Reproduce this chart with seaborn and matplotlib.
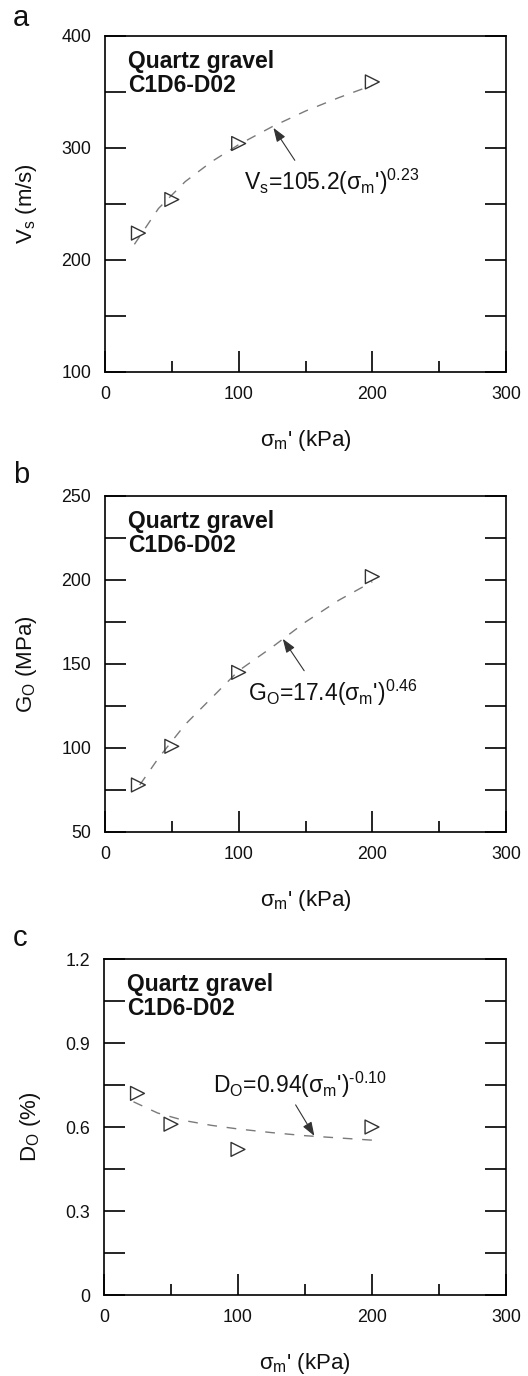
import matplotlib
matplotlib.use("Agg")
import matplotlib.pyplot as plt
from matplotlib.ticker import FixedLocator
import seaborn as sns
import pandas as pd

# ---------------- data ----------------
stress_kpa = [25, 50, 100, 200]
vs_values = [224, 254, 304, 359]
go_values = [78, 101, 145, 202]
do_values = [0.72, 0.61, 0.52, 0.60]

# fitted-curve samples
fit_x_a = [22, 40, 60, 80, 100, 125, 150, 175, 200]
fit_y_a = [214, 246, 270, 288, 303, 319, 333, 345, 356]
fit_x_b = [26, 40, 60, 80, 100, 125, 150, 175, 200]
fit_y_b = [78, 94, 114, 130, 146, 160, 175, 188, 199]
fit_x_c = [22, 40, 60, 80, 100, 125, 150, 175, 200]
fit_y_c = [0.690, 0.650, 0.623, 0.606, 0.593, 0.580, 0.569, 0.561, 0.553]

panel_letters = ["a", "b", "c"]
sample_text = "Quartz gravel\nC1D6-D02"
y_labels = [r"$\mathregular{V_s}$ (m/s)", r"$\mathregular{G_O}$ (MPa)", r"$\mathregular{D_O}$ (%)"]
x_label = r"$\mathregular{σ_m}$' (kPa)"
eq_texts = [
    r"$\mathregular{V_s}$=105.2($\mathregular{σ_m}$')$\mathregular{^{0.23}}$",
    r"$\mathregular{G_O}$=17.4($\mathregular{σ_m}$')$\mathregular{^{0.46}}$",
    r"$\mathregular{D_O}$=0.94($\mathregular{σ_m}$')$\mathregular{^{\text{-}0.10}}$",
]
y_limits = [(100, 400), (50, 250), (0, 1.2)]
y_ticks = [[100, 200, 300, 400], [50, 100, 150, 200, 250], [0, 0.3, 0.6, 0.9, 1.2]]
y_minor = [[150, 250, 350], [75, 125, 175, 225], [0.15, 0.45, 0.75, 1.05]]
y_tick_labels = [["100", "200", "300", "400"],
                 ["50", "100", "150", "200", "250"],
                 ["0", "0.3", "0.6", "0.9", "1.2"]]
x_ticks = [0, 100, 200, 300]
x_minor = [50, 150, 250]
x_tick_labels = ["0", "100", "200", "300"]

# annotation geometry (data coords): text anchor, arrow tip, arrow tail
eq_pos = [(104, 270), (107, 133), (81, 0.752)]
arrow_tip = [(126, 318), (133, 165), (157, 0.568)]
arrow_tail = [(142, 289), (149, 146), (143, 0.679)]

# ---------------- style ----------------
sns.set_theme(style="ticks")
plt.rcParams["font.family"] = ["Liberation Sans", "DejaVu Sans"]
plt.rcParams["mathtext.fontset"] = "custom"
plt.rcParams["mathtext.rm"] = "Liberation Sans"
plt.rcParams["mathtext.it"] = "Liberation Sans"
plt.rcParams["mathtext.bf"] = "Liberation Sans:bold"

W, H = 528, 1376
fig = plt.figure(figsize=(W / 100, H / 100), dpi=100)
fig.patch.set_facecolor("white")

# axes boxes in pixels: left, top, right, bottom
boxes = [(105, 36, 506, 372), (105, 496, 506, 832), (104, 959, 506, 1295)]
letter_base = [26, 483, 946]

y_series = [vs_values, go_values, do_values]
fits = [(fit_x_a, fit_y_a), (fit_x_b, fit_y_b), (fit_x_c, fit_y_c)]

for i in range(3):
    l, t, r, b = boxes[i]
    ax = fig.add_axes([l / W, 1 - b / H, (r - l) / W, (b - t) / H])
    ax.set_facecolor("white")

    fx, fy = fits[i]
    sns.lineplot(x=fx, y=fy, ax=ax, color="#7a7a7a", lw=1.0,
                 linestyle=(0, (7, 7)), sort=False)
    df = pd.DataFrame({"x": stress_kpa, "y": y_series[i]})
    sns.scatterplot(data=df, x="x", y="y", ax=ax, marker=">", s=100,
                    linewidth=1.0, edgecolor="#333333", zorder=3)
    coll = ax.collections[-1]
    coll.set_facecolor("none")
    coll.set_edgecolor("#333333")

    ax.set_xticks(x_ticks)
    ax.set_xticklabels(x_tick_labels)
    ax.xaxis.set_minor_locator(FixedLocator(x_minor))
    ax.set_yticks(y_ticks[i])
    ax.set_yticklabels(y_tick_labels[i])
    ax.yaxis.set_minor_locator(FixedLocator(y_minor[i]))
    ax.set_xlim(0, 300)
    ax.set_ylim(*y_limits[i])

    ax.tick_params(axis="y", which="both", direction="in", length=15, width=1.2,
                   left=True, right=True, labelsize=12.8, pad=10, color="black",
                   labelcolor="#111111")
    ax.tick_params(axis="x", which="major", direction="in", length=15, width=1.2,
                   bottom=True, top=False, labelsize=12.8, pad=10, color="black",
                   labelcolor="#111111")
    ax.tick_params(axis="x", which="minor", direction="in", length=8, width=1.2,
                   bottom=True, top=False, color="black")
    for sp in ax.spines.values():
        sp.set_visible(True)
        sp.set_linewidth(1.2)
        sp.set_color("black")

    ax.set_xlabel(x_label, fontsize=16, labelpad=18, color="#111111")
    ax.set_ylabel(y_labels[i], fontsize=16, labelpad=16, color="#111111")

    ax.text(0.057, 0.957, sample_text, transform=ax.transAxes, ha="left", va="top",
            fontsize=16.5, fontweight="bold", linespacing=1.05, color="#111111")

    ax.text(eq_pos[i][0], eq_pos[i][1], eq_texts[i], ha="left", va="center",
            fontsize=16.5, color="#111111")
    ax.annotate("", xy=arrow_tip[i], xytext=arrow_tail[i],
                arrowprops=dict(arrowstyle="-|>,head_length=0.7,head_width=0.25",
                                color="#333333", lw=0.8, shrinkA=0, shrinkB=0))

    fig.text(13 / W, 1 - letter_base[i] / H, panel_letters[i], fontsize=21,
             ha="left", va="baseline", color="#111111")

fig.savefig("out.png", dpi=100, facecolor="white")
